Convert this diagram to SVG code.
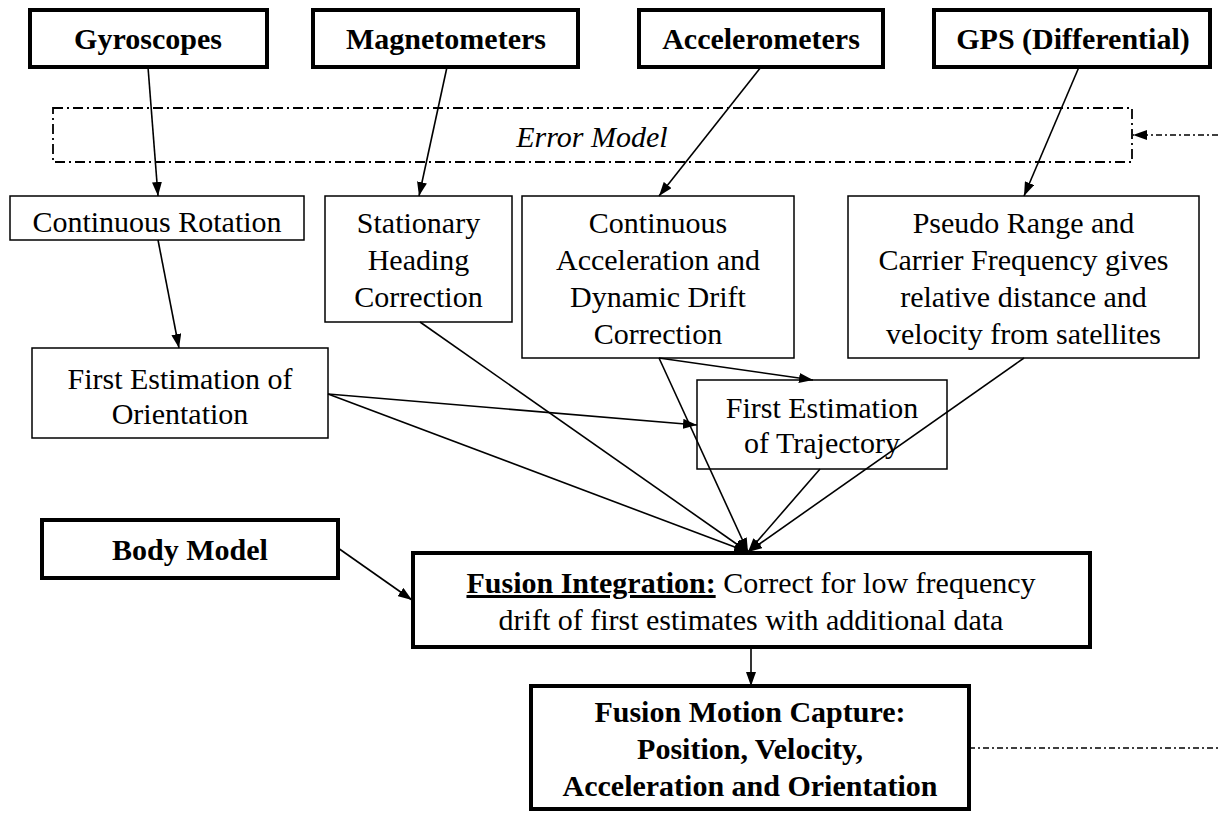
<svg xmlns="http://www.w3.org/2000/svg" width="1218" height="813" viewBox="0 0 1218 813">
<style>
  text { font-family: "Liberation Serif", "Times New Roman", serif; font-size: 30px; fill: #000; text-anchor: middle; }
  .b { font-weight: bold; }
  .i { font-style: italic; }
  .thick { fill: #fff; stroke: #000; stroke-width: 4; }
  .thin { fill: #fff; stroke: #000; stroke-width: 1.5; }
  .dd { fill: none; stroke: #000; stroke-width: 1.8; stroke-dasharray: 10 4 2 4; }
  .c { fill: none; stroke: #000; stroke-width: 1.6; }
  .cd { fill: none; stroke: #000; stroke-width: 1.4; stroke-dasharray: 6 3 2 3; }
</style>
<defs>
  <marker id="ah" markerWidth="14" markerHeight="10" refX="14" refY="5" orient="auto" markerUnits="userSpaceOnUse">
    <path d="M0,0 L14,5 L0,10 z" fill="#000"/>
  </marker>
</defs>
<rect width="1218" height="813" fill="#fff"/>

<g id="error-model">
  <rect x="53" y="108" width="1079" height="54" class="dd"/>
  <text x="592" y="147" class="i">Error Model</text>
</g>

<g id="gyroscopes">
  <rect x="30" y="10" width="237" height="57" class="thick"/>
  <text x="148" y="49" class="b">Gyroscopes</text>
</g>
<g id="magnetometers">
  <rect x="313" y="10" width="265" height="57" class="thick"/>
  <text x="446" y="49" class="b">Magnetometers</text>
</g>
<g id="accelerometers">
  <rect x="639" y="10" width="244" height="57" class="thick"/>
  <text x="761" y="49" class="b">Accelerometers</text>
</g>
<g id="gps">
  <rect x="934" y="10" width="276" height="57" class="thick"/>
  <text x="1073" y="49" class="b">GPS (Differential)</text>
</g>

<g id="continuous-rotation">
  <rect x="10" y="196" width="294" height="44" class="thin"/>
  <text x="157" y="232">Continuous Rotation</text>
</g>
<g id="stationary-heading">
  <rect x="325" y="196" width="187" height="126" class="thin"/>
  <text x="418.5" y="233">Stationary</text>
  <text x="418.5" y="270">Heading</text>
  <text x="418.5" y="307">Correction</text>
</g>
<g id="continuous-acceleration">
  <rect x="522" y="196" width="272" height="162" class="thin"/>
  <text x="658" y="233">Continuous</text>
  <text x="658" y="270">Acceleration and</text>
  <text x="658" y="307">Dynamic Drift</text>
  <text x="658" y="344">Correction</text>
</g>
<g id="pseudo-range">
  <rect x="848" y="196" width="351" height="162" class="thin"/>
  <text x="1023.5" y="233">Pseudo Range and</text>
  <text x="1023.5" y="270">Carrier Frequency gives</text>
  <text x="1023.5" y="307">relative distance and</text>
  <text x="1023.5" y="344">velocity from satellites</text>
</g>

<g id="first-orientation">
  <rect x="32" y="348" width="296" height="90" class="thin"/>
  <text x="180" y="389">First Estimation of</text>
  <text x="180" y="424">Orientation</text>
</g>
<g id="first-trajectory">
  <rect x="697" y="380" width="250" height="89" class="thin"/>
  <text x="822" y="418">First Estimation</text>
  <text x="822" y="453">of Trajectory</text>
</g>

<g id="body-model">
  <rect x="42" y="520" width="296" height="58" class="thick"/>
  <text x="190" y="560" class="b">Body Model</text>
</g>

<g id="fusion-integration">
  <rect x="413" y="553" width="677" height="94" class="thick"/>
  <text x="751" y="593"><tspan class="b" style="text-decoration: underline;">Fusion Integration:</tspan> Correct for low frequency</text>
  <text x="751" y="630">drift of first estimates with additional data</text>
</g>

<g id="fusion-motion-capture">
  <rect x="531" y="686" width="438" height="123" class="thick"/>
  <text x="750" y="722" class="b">Fusion Motion Capture:</text>
  <text x="750" y="759" class="b">Position, Velocity,</text>
  <text x="750" y="796" class="b">Acceleration and Orientation</text>
</g>

<g id="connectors">
  <line x1="148" y1="67" x2="158" y2="196" class="c" marker-end="url(#ah)"/>
  <line x1="447" y1="67" x2="419" y2="196" class="c" marker-end="url(#ah)"/>
  <line x1="761" y1="67" x2="659" y2="196" class="c" marker-end="url(#ah)"/>
  <line x1="1079" y1="67" x2="1024" y2="196" class="c" marker-end="url(#ah)"/>
  <line x1="158" y1="240" x2="179" y2="348" class="c" marker-end="url(#ah)"/>
  <line x1="420" y1="322" x2="748" y2="552" class="c" marker-end="url(#ah)"/>
  <line x1="328" y1="394" x2="697" y2="425" class="c" marker-end="url(#ah)"/>
  <line x1="328" y1="394" x2="748" y2="552" class="c" marker-end="url(#ah)"/>
  <line x1="659" y1="358" x2="813" y2="380" class="c" marker-end="url(#ah)"/>
  <line x1="659" y1="358" x2="748" y2="552" class="c" marker-end="url(#ah)"/>
  <line x1="820" y1="469" x2="748" y2="552" class="c" marker-end="url(#ah)"/>
  <line x1="1024" y1="358" x2="748" y2="552" class="c" marker-end="url(#ah)"/>
  <line x1="338" y1="548" x2="412" y2="600" class="c" marker-end="url(#ah)"/>
  <line x1="751" y1="647" x2="751" y2="686" class="c" marker-end="url(#ah)"/>
  <line x1="1218" y1="135" x2="1133" y2="135" class="cd" marker-end="url(#ah)"/>
  <line x1="969" y1="748" x2="1218" y2="748" class="cd"/>
</g>
</svg>
